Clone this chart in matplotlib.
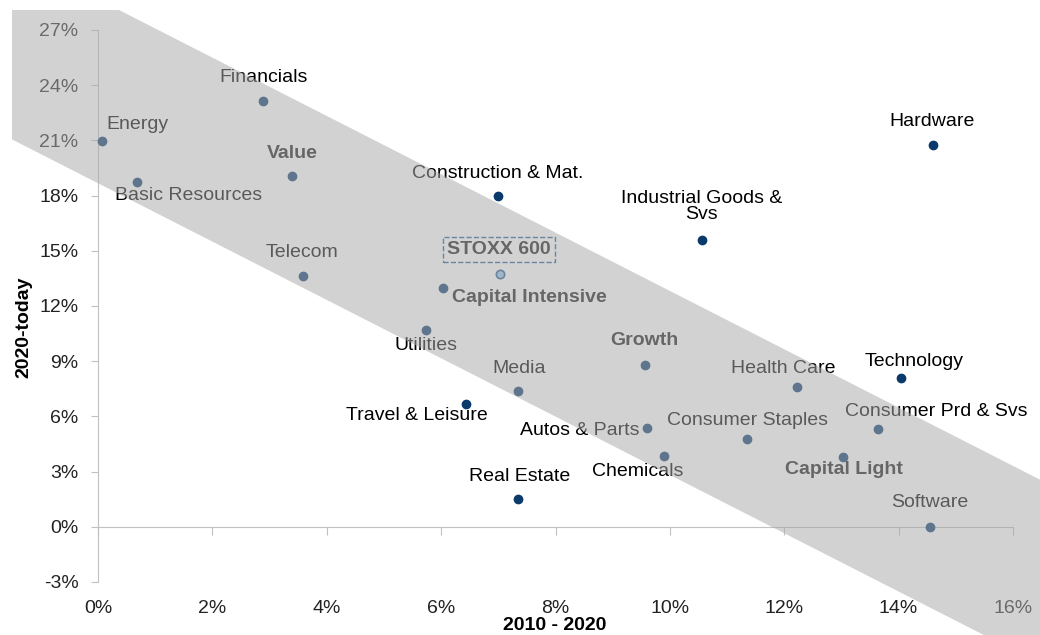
import matplotlib
matplotlib.use("Agg")
import matplotlib.pyplot as plt
from matplotlib.patches import Polygon, Rectangle

plt.rcParams['font.family'] = ['Liberation Sans', 'DejaVu Sans']

# data (annualised returns, %)
sectors = ["Energy", "Basic Resources", "Financials", "Value", "Telecom",
           "Construction & Mat.", "STOXX 600", "Capital Intensive", "Utilities",
           "Industrial Goods &\nSvs", "Hardware", "Growth", "Media",
           "Travel & Leisure", "Autos & Parts", "Chemicals", "Consumer Staples",
           "Health Care", "Technology", "Consumer Prd & Svs", "Capital Light",
           "Software", "Real Estate"]
ret_2010_2020 = [0.07, 0.68, 2.88, 3.39, 3.58, 6.99, 7.03, 6.03, 5.73, 10.56,
                 14.6, 9.56, 7.35, 6.43, 9.6, 9.9, 11.35, 12.22, 14.04, 13.64,
                 13.02, 14.55, 7.35]
ret_2020_today = [20.98, 18.75, 23.15, 19.08, 13.64, 17.99, 13.75, 12.99, 10.71,
                  15.6, 20.76, 8.8, 7.39, 6.68, 5.38, 3.86, 4.78, 7.61, 8.1,
                  5.33, 3.8, 0.0, 1.52]
bold_labels = ["Value", "Growth", "Capital Light", "Capital Intensive", "STOXX 600"]

xticks = [0, 2, 4, 6, 8, 10, 12, 14, 16]
yticks = [-3, 0, 3, 6, 9, 12, 15, 18, 21, 24, 27]

# label offsets in pixels (dx, dy) from each dot
label_offsets = [(35, 16), (52, -14), (1, 23), (0, 22), (-1, 23),
                 (0, 22), (-1, 24), (87, -10), (0, -16),
                 (0, 33), (-1, 23), (0, 24), (1, 22),
                 (-49, -12), (-67, -3), (-26, -16), (0, 18),
                 (-14, 18), (13, 16), (58, 17), (1, -13),
                 (0, 24), (1, 22)]

navy = "#0a3a6c"
axis_grey = "#c0c0c0"
fs = 14

fig = plt.figure(figsize=(10.4, 6.35), dpi=100)
ax = fig.add_axes([98 / 1040, 53 / 635, 915 / 1040, 552 / 635])
ax.set_xlim(0, 16)
ax.set_ylim(-3, 27)

for name, x, y, off in zip(sectors, ret_2010_2020, ret_2020_today, label_offsets):
    if name == "STOXX 600":
        ax.scatter(x, y, s=36, facecolor="#9cc3e8", edgecolor="#1f5a92",
                   linewidth=1.2, zorder=4, clip_on=False)
        ax.annotate(name, (x, y), xytext=off, textcoords="offset pixels",
                    ha="center", va="center", fontsize=fs, fontweight="bold",
                    color="#1a1a1a",
                    bbox=dict(boxstyle="square,pad=0.2", fc="none",
                              ec="#1f5a92", ls="--", lw=1))
        continue
    ax.scatter(x, y, s=36, color=navy, zorder=4, clip_on=False)
    ax.annotate(name, (x, y), xytext=off, textcoords="offset pixels",
                ha="center", va="center", fontsize=fs,
                fontweight="bold" if name in bold_labels else "normal",
                color="#1a1a1a" if name in bold_labels else "black",
                linespacing=0.95)

# axes styling
for s in ["top", "right", "bottom"]:
    ax.spines[s].set_visible(False)
ax.spines["left"].set_color(axis_grey)
ax.set_xticks(xticks)
ax.set_xticklabels([f"{t}%" for t in xticks])
ax.set_yticks(yticks)
ax.set_yticklabels([f"{t}%" for t in yticks])
ax.tick_params(axis="x", length=0, pad=13, labelsize=fs, labelcolor="#222222")
ax.tick_params(axis="y", length=5, color=axis_grey, pad=9, labelsize=fs,
               labelcolor="#222222")

# horizontal axis line through 0%
sec = ax.secondary_xaxis(0.1)
sec.set_xticks(xticks)
sec.set_xticklabels([])
sec.tick_params(length=6, color=axis_grey, direction="out")
sec.spines["bottom"].set_color(axis_grey)

fig.text(555 / 1040, 1 - 626 / 635, "2010 - 2020", ha="center", va="center",
         fontsize=14, fontweight="bold")
fig.text(24 / 1040, 1 - 327 / 635, "2020-today", ha="center", va="center",
         rotation=90, fontsize=14, fontweight="bold")

# translucent band laid over everything
band_x = [-5, 20, 20, -5]
band_y = [28.67 + 1.585 * 5, 28.67 - 1.585 * 20, 18.67 - 1.585 * 20, 18.67 + 1.585 * 5]
band = Polygon(list(zip(band_x, band_y)), closed=True, facecolor="#ababab",
               edgecolor="none", alpha=0.525, zorder=10)
ax.add_patch(band)
clip = Rectangle((12 / 1040, 0), 1, 1 - 10 / 635, transform=fig.transFigure,
                 facecolor="none")
band.set_clip_path(clip)

fig.savefig("out.png", dpi=100)
